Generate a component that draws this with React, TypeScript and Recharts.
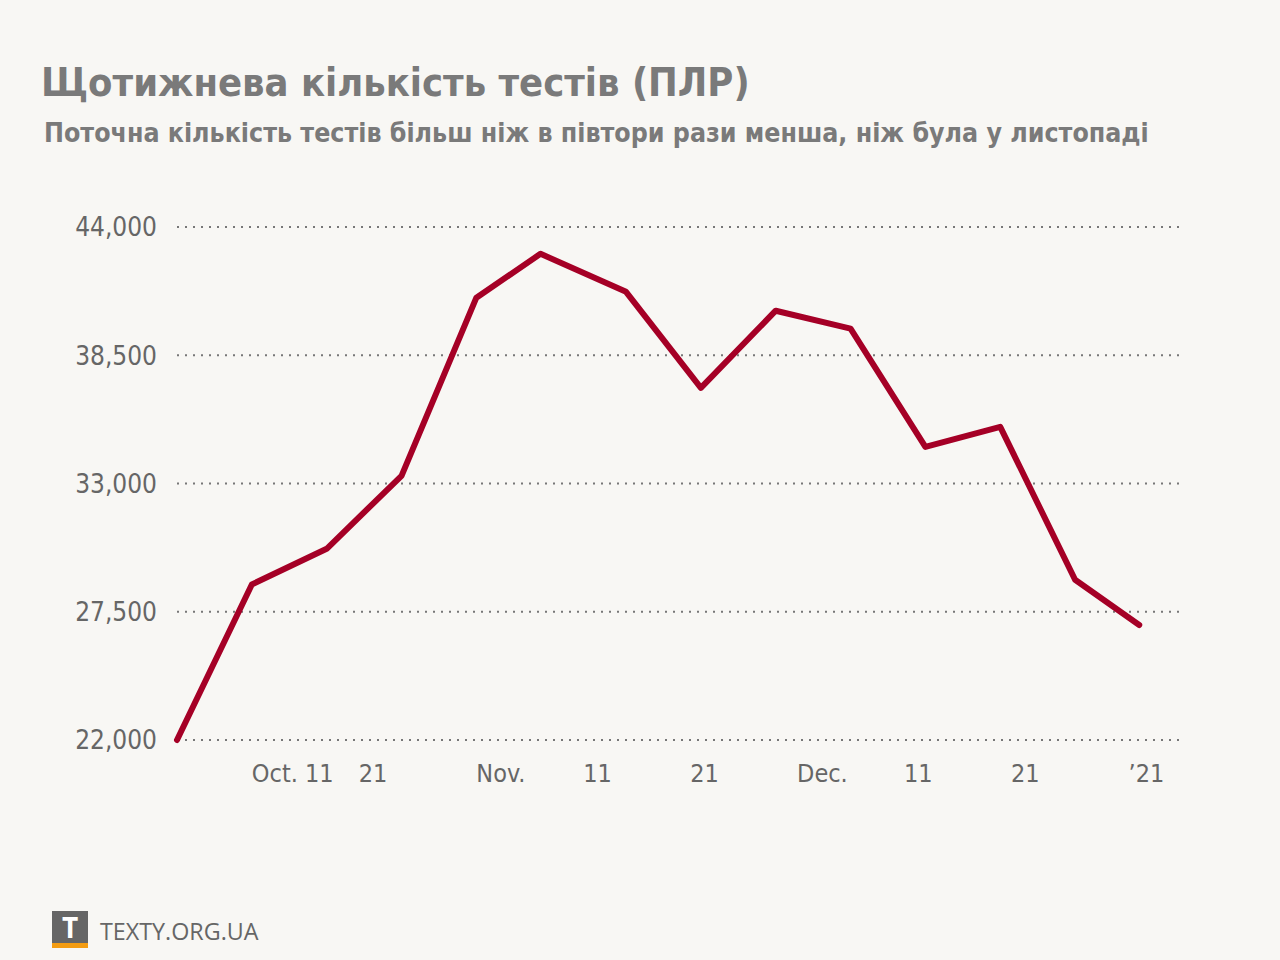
import React from "react";
import { LineChart, Line, XAxis, YAxis, CartesianGrid } from "recharts";

// weekly PCR tests (Ukraine), autumn 2020
const weekDates = [
  "2020-10-04", "2020-10-11", "2020-10-18", "2020-10-25", "2020-11-01",
  "2020-11-07", "2020-11-15", "2020-11-22", "2020-11-29", "2020-12-06",
  "2020-12-13", "2020-12-20", "2020-12-27", "2021-01-02",
];
const weeklyTests = [
  22000, 28670, 30200, 33330, 40970, 42850, 41220, 37100, 40410, 39640,
  34570, 35430, 28870, 26930,
];

const yTicks = [22000, 27500, 33000, 38500, 44000];
const xTickDates = [
  "2020-10-11", "2020-10-21", "2020-11-01", "2020-11-11", "2020-11-21",
  "2020-12-01", "2020-12-11", "2020-12-21", "2021-01-01",
];
const xTickLabels = ["Oct. 11", "21", "Nov.", "11", "21", "Dec.", "11", "21", "\u201921"];
const xDomainDates = ["2020-10-04", "2021-01-06"];

const ts = (d: string) => Date.parse(d + "T00:00:00Z");

const data = weekDates.map((d, i) => ({ t: ts(d), value: weeklyTests[i] }));
const xTicks = xTickDates.map(ts);

const NARROW = '"Liberation Sans Narrow", "DejaVu Sans Condensed", "Noto Sans", sans-serif';
const GREY = "#666666";

function YTick({ x, y, payload }: any) {
  return (
    <text x={x} y={y} dy="0.36em" textAnchor="end" fill={GREY} fontSize={26} fontFamily={NARROW}>
      {payload.value.toLocaleString("en-US")}
    </text>
  );
}

function XTick({ x, y, payload }: any) {
  const i = xTicks.indexOf(payload.value);
  return (
    <text x={x} y={y} dy="0.71em" textAnchor="start" fill={GREY} fontSize={25} fontFamily={NARROW}>
      {xTickLabels[i]}
    </text>
  );
}

export default function App() {
  return (
    <div
      style={{
        position: "absolute",
        left: 0,
        top: 0,
        width: 1280,
        height: 960,
        background: "#f8f7f4",
        overflow: "hidden",
      }}
    >
      <div
        style={{
          position: "absolute",
          left: 41,
          top: 59,
          fontFamily: NARROW,
          fontWeight: 700,
          fontSize: 39.5,
          color: "#7a7a7a",
          whiteSpace: "nowrap",
        }}
      >
        Щотижнева кількість тестів (ПЛР)
      </div>
      <div
        style={{
          position: "absolute",
          left: 44,
          top: 117,
          fontFamily: NARROW,
          fontWeight: 700,
          fontSize: 26.5,
          color: "#7a7a7a",
          whiteSpace: "nowrap",
        }}
      >
        Поточна кількість тестів більш ніж в півтори рази менша, ніж була у листопаді
      </div>

      <div style={{ position: "absolute", left: 0, top: 0 }}>
        <LineChart width={1280} height={960} data={data} margin={{ top: 227, right: 98, bottom: 160, left: 117 }}>
          <CartesianGrid
            horizontal
            vertical={false}
            stroke="#777777"
            strokeWidth={2}
            strokeDasharray="2 6"
          />
          <XAxis
            dataKey="t"
            type="number"
            scale="time"
            domain={xDomainDates.map(ts)}
            ticks={xTicks}
            tick={<XTick />}
            axisLine={false}
            tickLine={false}
            tickSize={0}
            tickMargin={24}
            height={60}
            interval={0}
          />
          <YAxis
            type="number"
            domain={[22000, 44000]}
            ticks={yTicks}
            tick={<YTick />}
            axisLine={false}
            tickLine={false}
            tickSize={0}
            tickMargin={20}
            width={60}
            interval={0}
          />
          <Line
            type="linear"
            dataKey="value"
            stroke="#a50026"
            strokeWidth={6}
            strokeLinejoin="round"
            strokeLinecap="round"
            dot={false}
            activeDot={false}
            isAnimationActive={false}
          />
        </LineChart>
      </div>

      <div style={{ position: "absolute", left: 52, top: 911, width: 36, height: 38 }}>
        <div style={{ width: 36, height: 32, background: "#666666", position: "relative" }}>
          <span
            style={{
              position: "absolute",
              left: 0,
              top: 0,
              width: 36,
              textAlign: "center",
              color: "#ffffff",
              fontFamily: "'Open Sans', sans-serif",
              fontWeight: 700,
              fontSize: 28,
              lineHeight: "32px",
            }}
          >
            T
          </span>
        </div>
        <div style={{ width: 36, height: 5, background: "#f39c12" }} />
      </div>
      <div
        style={{
          position: "absolute",
          left: 100,
          top: 914,
          fontFamily: "'Open Sans', sans-serif",
          fontSize: 23.3,
          color: "#666666",
          whiteSpace: "nowrap",
          lineHeight: "34px",
        }}
      >
        TEXTY.ORG.UA
      </div>
    </div>
  );
}
